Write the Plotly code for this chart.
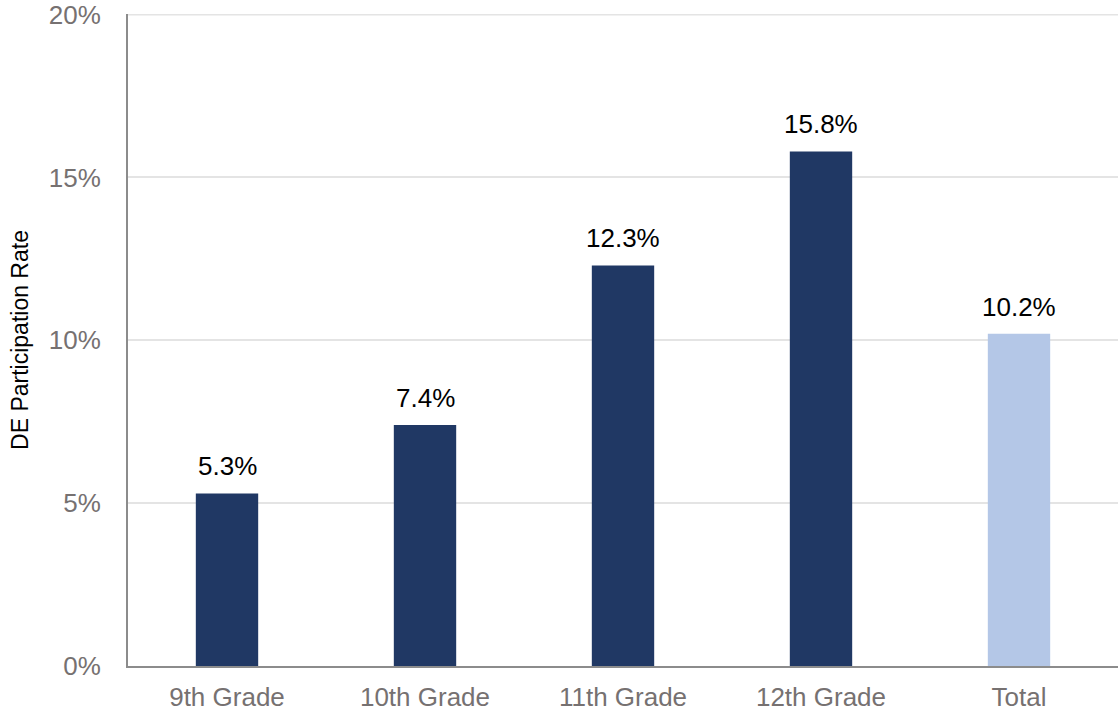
import plotly.graph_objects as go

categories = ["9th Grade", "10th Grade", "11th Grade", "12th Grade", "Total"]
values = [0.053, 0.074, 0.123, 0.158, 0.102]
labels = ["5.3%", "7.4%", "12.3%", "15.8%", "10.2%"]
bar_colors = ["#203864", "#203864", "#203864", "#203864", "#B4C7E7"]
tick_vals = [0, 0.05, 0.10, 0.15, 0.20]
tick_text = ["0%", "5%", "10%", "15%", "20%"]

FONT = "Liberation Sans, Arial"

fig = go.Figure(go.Bar(
    x=categories, y=values,
    marker=dict(color=bar_colors, line=dict(width=0)),
    width=0.315,
))

for c, v, t in zip(categories, values, labels):
    fig.add_annotation(
        x=c, y=v, text=t, showarrow=False,
        xanchor="center", yanchor="bottom", yshift=10,
        font=dict(family=FONT, size=26, color="#000000"),
    )

# top gridline at the last tick (plotly drops the gridline on the range edge)
fig.add_shape(type="line", xref="paper", x0=0, x1=1, yref="y",
              y0=tick_vals[-1], y1=tick_vals[-1],
              line=dict(color="#E4E4E4", width=1.5), layer="below")

fig.update_layout(
    width=1119, height=711,
    margin=dict(l=128, r=1, t=14, b=45),
    plot_bgcolor="white", paper_bgcolor="white",
    showlegend=False,
    font=dict(family=FONT),
    xaxis=dict(
        showline=True, linecolor="#8C8C8C", linewidth=2,
        tickfont=dict(size=26, color="#767171"),
        ticks="", ticklabelstandoff=7, automargin=False,
    ),
    yaxis=dict(
        range=[0, 0.2002], tickvals=tick_vals, ticktext=tick_text,
        showgrid=True, gridcolor="#E4E4E4", gridwidth=1.5,
        showline=True, linecolor="#8C8C8C", linewidth=2,
        zeroline=False, automargin=False,
        tickfont=dict(size=26, color="#767171"),
        ticks="", ticklabelstandoff=20, ticklabeloverflow="allow",
        title=dict(text="DE Participation Rate", font=dict(size=23, color="#000000"), standoff=14),
    ),
)

fig.write_html("out.html")
